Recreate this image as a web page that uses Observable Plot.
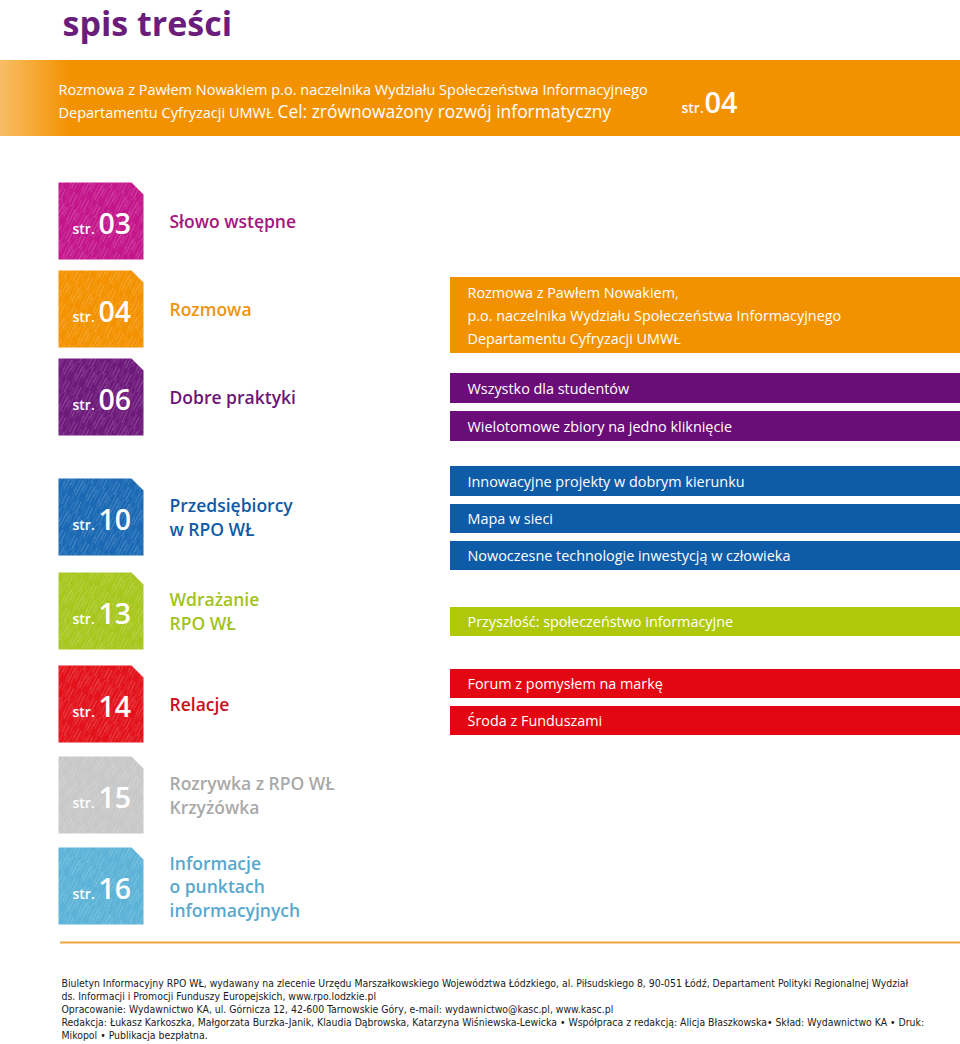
<!DOCTYPE html>
<html lang="pl">
<head>
<meta charset="utf-8">
<script src="https://cdn.jsdelivr.net/npm/d3@7"></script>
<script src="https://cdn.jsdelivr.net/npm/@observablehq/plot@0.6"></script>
<style>
  html, body { margin: 0; padding: 0; background: #fff; }
  #chart svg { display: block; }
</style>
</head>
<body>
<div id="chart"></div>
<script>
// ---------- DATA ----------
const pageTitle = "spis treści";

const bannerLines = [
  "Rozmowa z Pawłem Nowakiem p.o. naczelnika Wydziału Społeczeństwa Informacyjnego",
  "Departamentu Cyfryzacji UMWŁ"
];
const bannerHeadline = "Cel: zrównoważony rozwój informatyczny";
const bannerPage = "04";

const pageNumbers = ["03", "04", "06", "10", "13", "14", "15", "16"];
const sectionTitles = [
  ["Słowo wstępne"],
  ["Rozmowa"],
  ["Dobre praktyki"],
  ["Przedsiębiorcy", "w RPO WŁ"],
  ["Wdrażanie", "RPO WŁ"],
  ["Relacje"],
  ["Rozrywka z RPO WŁ", "Krzyżówka"],
  ["Informacje", "o punktach", "informacyjnych"]
];
const sectionColors = ["#c4168b", "#f39200", "#6e1a7b", "#1b69b4", "#a8c71e", "#e3131c", "#c8c8c8", "#5cb3d7"];
const titleColors   = ["#a3177e", "#ef9411", "#6b1677", "#0f5aa6", "#a3c21d", "#c8101d", "#a9a9a9", "#58a8ce"];

const articleSection = [1, 2, 2, 3, 3, 3, 4, 5, 5];
const articleTitles = [
  ["Rozmowa z Pawłem Nowakiem,", "p.o. naczelnika Wydziału Społeczeństwa Informacyjnego", "Departamentu Cyfryzacji UMWŁ"],
  ["Wszystko dla studentów"],
  ["Wielotomowe zbiory na jedno kliknięcie"],
  ["Innowacyjne projekty w dobrym kierunku"],
  ["Mapa w sieci"],
  ["Nowoczesne technologie inwestycją w człowieka"],
  ["Przyszłość: społeczeństwo informacyjne"],
  ["Forum z pomysłem na markę"],
  ["Środa z Funduszami"]
];
const articleColors = ["#f39200", "#6b0d79", "#0e5ba8", "#afc90a", "#e30613"]; // orange, purple, blue, green, red
const articleColorBySection = {1: 0, 2: 1, 3: 2, 4: 3, 5: 4};

const footerLines = [
  "Biuletyn Informacyjny RPO WŁ, wydawany na zlecenie Urzędu Marszałkowskiego Województwa Łódzkiego, al. Piłsudskiego 8, 90-051 Łódź, Departament Polityki Regionalnej Wydział",
  "ds. Informacji i Promocji Funduszy Europejskich, www.rpo.lodzkie.pl",
  "Opracowanie: Wydawnictwo KA, ul. Górnicza 12, 42-600 Tarnowskie Góry, e-mail: wydawnictwo@kasc.pl, www.kasc.pl",
  "Redakcja: Łukasz Karkoszka, Małgorzata Burzka-Janik, Klaudia Dąbrowska, Katarzyna Wiśniewska-Lewicka • Współpraca z redakcją: Alicja Błaszkowska• Skład: Wydawnictwo KA • Druk:",
  "Mikopol • Publikacja bezpłatna."
];

// ---------- LAYOUT (page units) ----------
const W = 960, H = 1044;
const L = {
  titleX: 62, titleBase: 35,
  banner: [60, 136], bannerX: 58, bannerBase: [94, 117], headlineX: 277,
  bannerStrX: 681, bannerNumX: 704, bannerNumBase: 112,
  boxTop: [182, 270, 358, 478, 572, 665, 756, 847], boxH: 77, boxX: [58, 143], cut: 12,
  strX: 72, numX: 98, numOffset: 13,
  secTitleX: 169, secOffset: 7, secLead: 23.5,
  bars: [[277, 353], [373, 403], [411, 441], [466, 496], [504, 533], [541, 570], [607, 636], [669, 698], [706, 735]],
  barX: [450, 960], barTextX: 467, barLead: 23,
  ruleY: 942, ruleX: [60, 960],
  footX: 61, footBase: 986, footLead: 13.2
};

// ---------- DERIVED TABLES ----------
const boxes = pageNumbers.map((p, i) => {
  const top = L.boxTop[i], bot = top + L.boxH;
  return {i, page: p, top, bot, mid: (top + bot) / 2, color: sectionColors[i], tcolor: titleColors[i]};
});
const boxPts = boxes.flatMap(b => [
  {i: b.i, x: L.boxX[0], y: b.top, color: b.color},
  {i: b.i, x: L.boxX[1] - L.cut, y: b.top, color: b.color},
  {i: b.i, x: L.boxX[1], y: b.top + L.cut, color: b.color},
  {i: b.i, x: L.boxX[1], y: b.bot, color: b.color},
  {i: b.i, x: L.boxX[0], y: b.bot, color: b.color}
]);
const secTitleRows = boxes.flatMap(b => {
  const lines = sectionTitles[b.i], n = lines.length;
  return lines.map((t, k) => ({text: t, color: b.tcolor, y: b.mid + L.secOffset + (k - (n - 1) / 2) * L.secLead}));
});
const bars = articleTitles.map((lines, j) => {
  const [y1, y2] = L.bars[j];
  return {j, y1, y2, mid: (y1 + y2) / 2, lines, color: articleColors[articleColorBySection[articleSection[j]]]};
});
const barRows = bars.flatMap(b => {
  const n = b.lines.length;
  return b.lines.map((t, k) => ({text: t, y: b.mid + 5 + (k - (n - 1) / 2) * L.barLead}));
});
const footRows = footerLines.map((t, k) => ({text: t, y: L.footBase + k * L.footLead}));

const sans = "'Open Sans', 'Noto Sans', sans-serif";

const chart = Plot.plot({
  width: W, height: H,
  margin: 0,
  x: {domain: [0, W], axis: null},
  y: {domain: [0, H], reverse: true, axis: null},
  color: {type: "identity"},
  style: {fontFamily: sans, background: "#fff"},
  marks: [
    // page title
    Plot.text([pageTitle], {x: L.titleX, y: L.titleBase, text: d => d, textAnchor: "start", lineAnchor: "bottom",
      fontSize: 34, fontWeight: 700, fill: "#6b1d7b"}),
    // banner
    Plot.rect([0], {x1: 0, x2: W, y1: L.banner[0], y2: L.banner[1], fill: "#f39200"}),
    Plot.rect([0], {x1: 0, x2: 70, y1: L.banner[0], y2: L.banner[1], fill: "url(#fadeL)"}),
    Plot.text(bannerLines, {x: L.bannerX, y: (d, k) => L.bannerBase[k], text: d => d, textAnchor: "start", lineAnchor: "bottom",
      fontSize: 14.5, fill: "#fff"}),
    Plot.text([bannerHeadline], {x: L.headlineX, y: L.bannerBase[1], text: d => d, textAnchor: "start", lineAnchor: "bottom",
      fontSize: 17.4, fill: "#fff"}),
    Plot.text(["str."], {x: L.bannerStrX, y: L.bannerNumBase, text: d => d, textAnchor: "start", lineAnchor: "bottom",
      fontSize: 14, fontWeight: 600, fill: "#fff"}),
    Plot.text([bannerPage], {x: L.bannerNumX, y: L.bannerNumBase, text: d => d, textAnchor: "start", lineAnchor: "bottom",
      fontSize: 29, fontWeight: 600, fill: "#fff"}),
    // page boxes
    Plot.line(boxPts, {x: "x", y: "y", z: "i", fill: "color", stroke: null, curve: "linear"}),
    Plot.line(boxPts, {x: "x", y: "y", z: "i", fill: "url(#hatch)", stroke: null, curve: "linear"}),
    Plot.text(boxes, {x: L.strX, y: d => d.mid + L.numOffset, text: () => "str.", textAnchor: "start", lineAnchor: "bottom",
      fontSize: 14, fontWeight: 600, fill: "#fff"}),
    Plot.text(boxes, {x: L.numX, y: d => d.mid + L.numOffset, text: "page", textAnchor: "start", lineAnchor: "bottom",
      fontSize: 28.5, fontWeight: 600, fill: "#fff"}),
    // section titles
    Plot.text(secTitleRows, {x: L.secTitleX, y: "y", text: "text", fill: "color", textAnchor: "start", lineAnchor: "bottom",
      fontSize: 17.5, fontWeight: 600}),
    // article bars
    Plot.rect(bars, {x1: L.barX[0], x2: L.barX[1], y1: "y1", y2: "y2", fill: "color"}),
    Plot.text(barRows, {x: L.barTextX, y: "y", text: "text", textAnchor: "start", lineAnchor: "bottom",
      fontSize: 14.4, fill: "#fff"}),
    // rule
    Plot.ruleY([L.ruleY], {x1: L.ruleX[0], x2: L.ruleX[1], stroke: "#eba63d", strokeWidth: 2}),
    // footer
    Plot.text(footRows, {x: L.footX, y: "y", text: "text", textAnchor: "start", lineAnchor: "bottom",
      fontSize: 10.4, fill: "#1a1a1a", fontFamily: "'DejaVu Sans Condensed', 'Liberation Sans Narrow', sans-serif"})
  ]
});

// pattern + gradient defs (styling only)
const defs = d3.select(chart).insert("defs", ":first-child");
const pat = defs.append("pattern").attr("id", "hatch").attr("patternUnits", "userSpaceOnUse")
  .attr("width", 13).attr("height", 34).attr("patternTransform", "rotate(27)");
const strokes = [[0.5, 2, 15], [2.5, 12, 30], [4, 0, 9], [5.5, 16, 33], [7, 5, 22], [8.5, 24, 34], [10, 1, 13], [11.5, 14, 28], [3.2, 26, 34], [9.2, 18, 26]];
strokes.forEach(([x, a, b], k) => pat.append("line").attr("x1", x).attr("x2", x).attr("y1", a).attr("y2", b)
  .attr("stroke", "#fff").attr("stroke-opacity", k % 3 === 0 ? 0.3 : 0.18).attr("stroke-width", 0.7));
const grad = defs.append("linearGradient").attr("id", "fadeL").attr("x1", "0").attr("x2", "1").attr("y1", "0").attr("y2", "0");
grad.append("stop").attr("offset", "0%").attr("stop-color", "#fff").attr("stop-opacity", 0.4);
grad.append("stop").attr("offset", "100%").attr("stop-color", "#fff").attr("stop-opacity", 0);

document.getElementById("chart").appendChild(chart);
</script>
</body>
</html>
